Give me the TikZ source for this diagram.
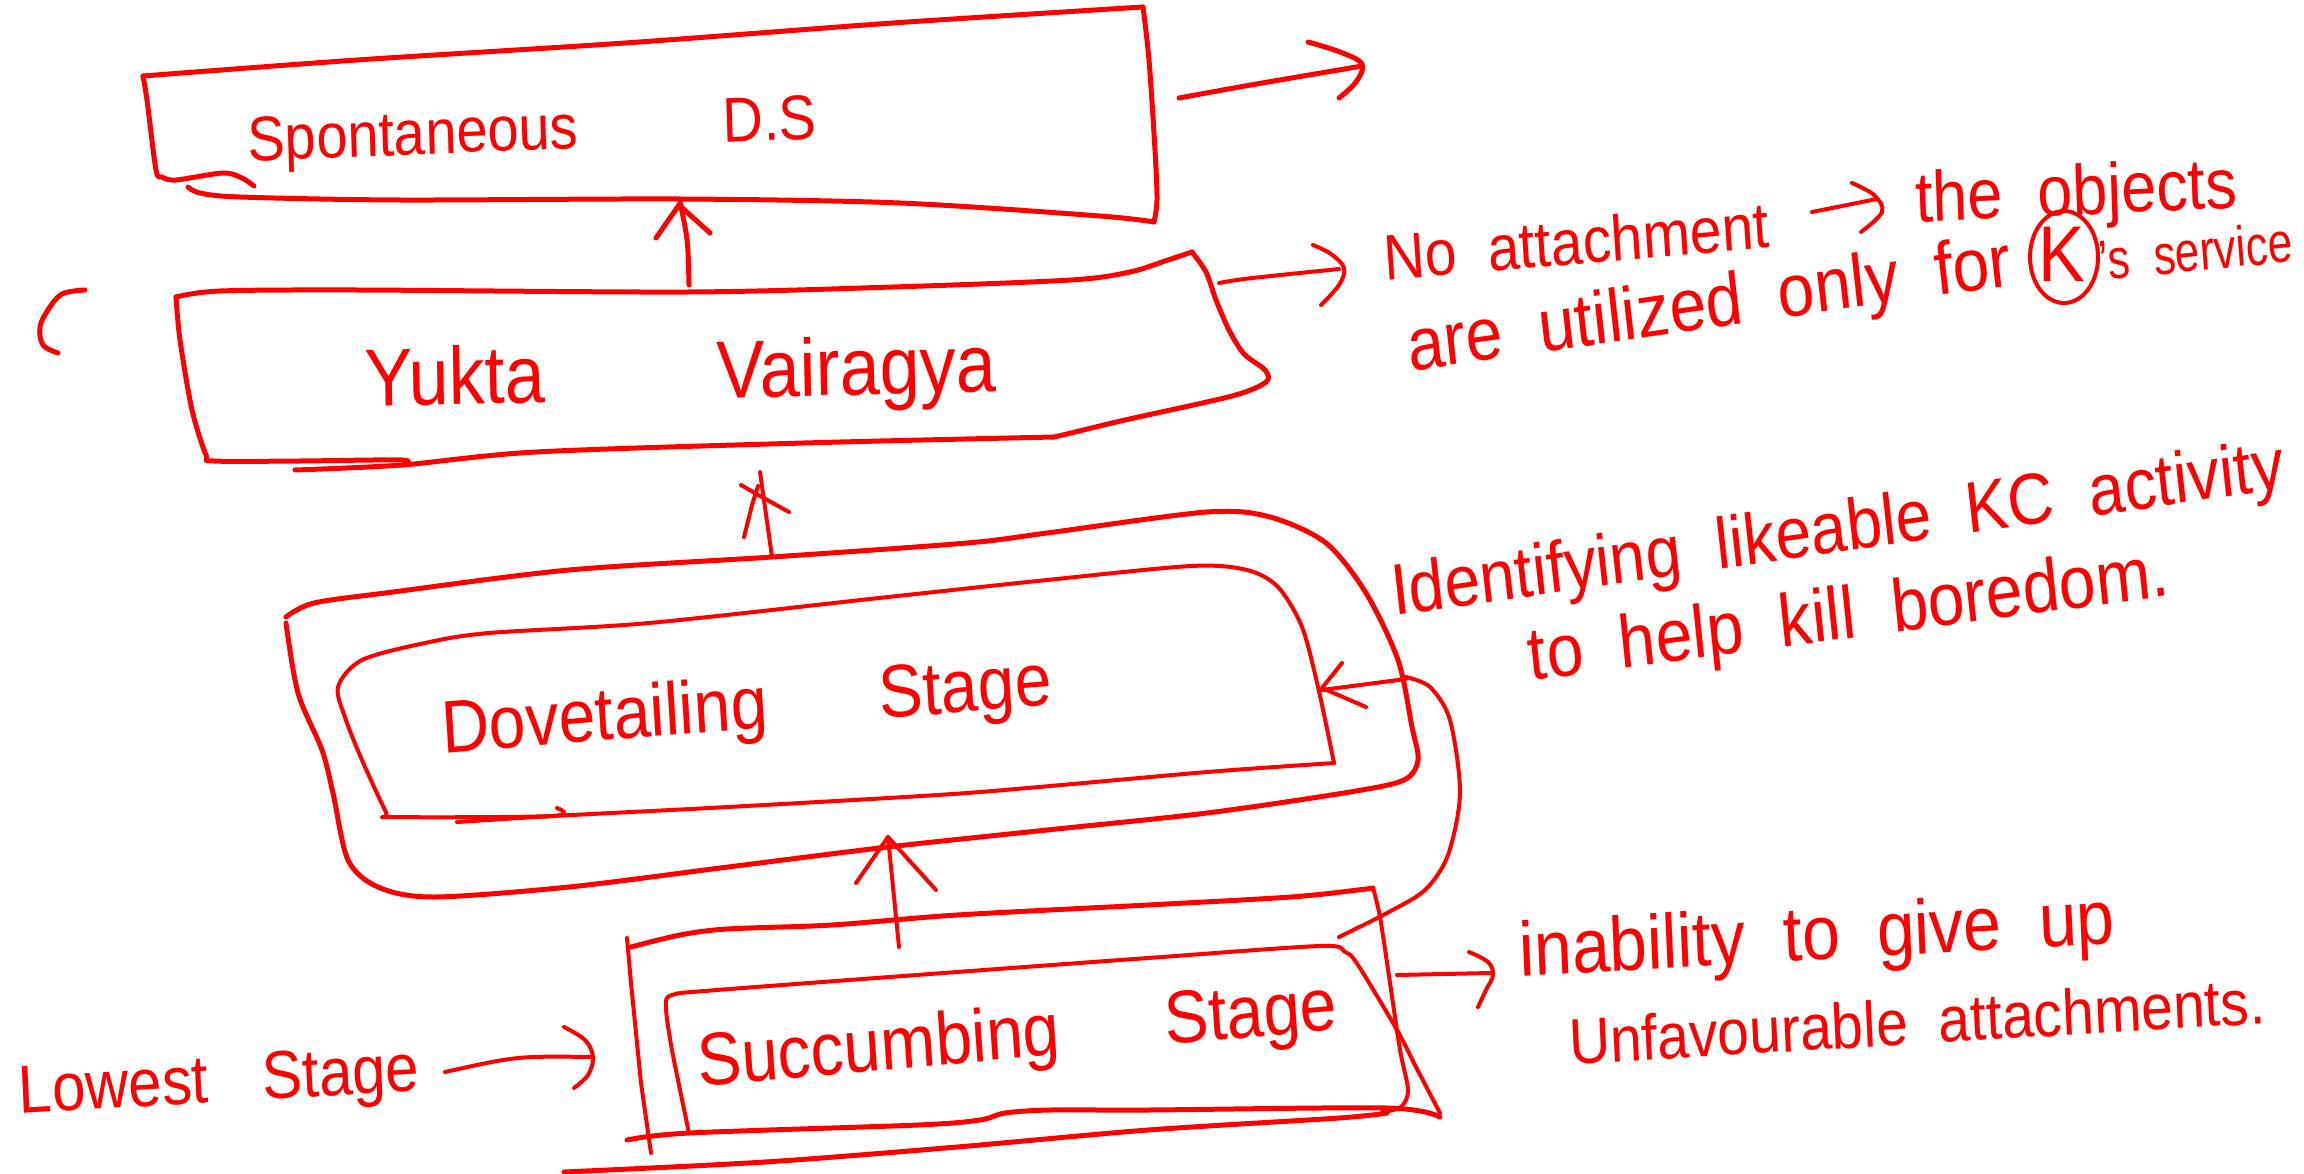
\documentclass[tikz,border=0pt]{standalone}
\usepackage{fontspec}
\setmainfont{Liberation Sans}
\definecolor{inkred}{RGB}{255,0,0}
\newcommand\handsize[1]{\fontsize{#1pt}{#1pt}\selectfont\spaceskip=0.55em\relax}
\begin{document}
\begin{tikzpicture}[x=1pt,y=-1pt,
  pen/.style={draw=inkred,line width=5pt,line cap=round,line join=round},
  finepen/.style={pen,line width=4pt},
  word/.style={text=inkred,inner sep=0pt,anchor=base,yscale=1.13},
  sz/.style={font={\handsize{#1}}}]
\useasboundingbox (0,0) rectangle (2304,1174);

% ---------- Spontaneous D.S ----------
\draw[pen] plot[smooth,tension=.5] coordinates {(143,76) (147,100) (156,170) (162,177) (176,180) (223,173) (242,178) (254,186)};
\draw[pen] plot[smooth,tension=.5] coordinates {(143,76) (357,60) (625,43) (893,23) (1143,7)};
\draw[pen] plot[smooth,tension=.5] coordinates {(1143,7) (1149,60) (1155,150) (1157,200) (1154,222)};
\draw[pen] plot[smooth,tension=.5] coordinates {(1154,222) (1100,216) (900,203) (680,199) (400,200) (240,197) (200,193) (188,187)};
\node[word,sz=56,rotate=2] (sds) at (533,150) {Spontaneous\hspace{2.6em}D.S};

% ---------- Yukta Vairagya ----------
\draw[pen] plot[smooth,tension=.5] coordinates {(176,297) (220,291) (357,290) (688,292) (893,287) (1071,280) (1130,272) (1165,261) (1192,252)};
\draw[pen] plot[smooth,tension=.5] coordinates {(176,297) (180,340) (192,410) (206,455) (214,461) (300,461) (402,460) (404,465)};
\draw[pen] plot[smooth,tension=.5] coordinates {(295,470) (402,465) (536,452) (804,443) (1054,437)};
\draw[pen] plot[smooth,tension=.5] coordinates {(1192,252) (1206,272) (1216,300) (1229,330) (1244,354) (1265,370) (1266,382) (1232,396) (1125,420) (1071,433) (1054,437)};
\draw[pen] plot[smooth,tension=.6] coordinates {(85,290) (62,294) (48,310) (40,327) (43,345) (58,353)};
\node[word,sz=72,rotate=1.2] (yv) at (681,399) {Yukta\hspace{2.4em}Vairagya};

% ---------- Dovetailing Stage ----------
\draw[pen] plot[smooth,tension=.5] coordinates {(286,617) (314,603) (393,592) (569,570) (772,557) (967,543) (1047,533) (1207,512) (1270,517) (1326,543) (1366,593) (1398,660) (1412,727) (1418,760) (1404,780) (1350,792) (1207,813) (1047,830) (888,847) (728,867) (569,887) (433,897) (378,887) (348,860) (333,793) (322,750) (298,693) (286,623)};
\draw[finepen] plot[smooth,tension=.5] coordinates {(557,808) (553,816) (393,817) (386,812) (362,760) (346,720) (338,687) (362,660) (425,643) (489,633) (649,623) (888,597) (1047,580) (1191,566) (1247,570) (1278,587) (1302,627) (1318,687) (1334,763)};
\draw[finepen] plot[smooth,tension=.4] coordinates {(1334,763) (1207,772) (967,793) (728,807) (553,816) (457,822)};
\node[word,sz=66,rotate=4] (dov) at (748,729) {Dovetailing\hspace{1.7em}Stage};

% ---------- Succumbing Stage ----------
\draw[finepen] (627,938) -- (631,983) -- (641,1083) -- (651,1153);
\draw[pen] plot[smooth,tension=.5] coordinates {(631,947) (680,935) (727,929) (832,925) (957,915) (1148,905) (1291,897) (1358,890) (1373,888)};
\draw[finepen] plot[smooth,tension=.5] coordinates {(1373,888) (1380,917) (1390,983) (1400,1050) (1408,1090) (1401,1107) (1382,1112)};
\draw[pen] plot[smooth,tension=.5] coordinates {(627,1140) (689,1133) (918,1125) (980,1120) (1005,1113) (1050,1110) (1148,1110) (1387,1108) (1440,1117)};
\draw[pen] plot[smooth,tension=.5] coordinates {(564,1172) (765,1162) (957,1147) (1148,1130) (1339,1118) (1387,1113)};
\draw[finepen] plot[smooth,tension=.5] coordinates {(689,1133) (672,1050) (666,1007) (672,995) (717,990) (957,972) (1148,958) (1320,946) (1345,952) (1358,965) (1397,1030) (1416,1067) (1440,1113)};
\node[word,sz=66,rotate=4.5] (suc) at (1019,1058) {Succumbing\hspace{1.6em}Stage};

% ---------- side labels ----------
\node[word,sz=60,rotate=3] (low) at (220,1102) {Lowest\hspace{0.9em}Stage};

\node[word,sz=57,rotate=4.3] (na) at (1578,264) {No attachment};
\node[word,sz=63,rotate=2.3] (obj) at (2077,215) {the objects};
\node[word,sz=66,rotate=7.2] (util) at (1712,328) {are utilized only for};
\node[word,sz=70,anchor=center] (kk) at (2062,254) {K};
\draw[finepen] (2064,257) ellipse [x radius=34pt,y radius=46pt];
\node[word,sz=50,rotate=5,xscale=.88] (serv) at (2197,271) {'s service};

\node[word,sz=64,rotate=7.2] (iden) at (1840,552) {Identifying likeable KC activity};
\node[word,sz=66,rotate=6.7] (kill) at (1851,638) {to help kill boredom.};

\node[word,sz=68,rotate=2.8] (inab) at (1818,960) {inability to give up};
\node[word,sz=57,rotate=3] (unf) at (1918,1044) {Unfavourable attachments.};

% ---------- connectors ----------
\coordinate (yvTop) at (689,285);   \coordinate (sdsBot) at (680,202);
\draw[pen] (yvTop) .. controls (688,240) .. (sdsBot);
\draw[pen] (656,238) -- (679,205) -- (710,233);

\coordinate (dovTop) at (772,557);  \coordinate (yvBot) at (760,472);
\draw[finepen] (dovTop) -- (yvBot);
\draw[finepen] (744,537) -- (752,505) -- (758,486);
\draw[finepen] (741,485) -- (760,496) -- (789,512);

\coordinate (sucTop) at (899,947);  \coordinate (dovBot) at (888,837);
\draw[finepen] (sucTop) -- (dovBot);
\draw[finepen] (856,883) -- (888,837) -- (936,890);

\coordinate (sdsOut) at (1179,98);  \coordinate (sdsTip) at (1362,66);
\draw[pen] (sdsOut) .. controls (1250,85) .. (sdsTip);
\draw[pen] plot[smooth,tension=.6] coordinates {(1308,42) (1340,52) (1362,64) (1356,82) (1339,98)};

\coordinate (yvOut) at (1219,283);  \coordinate (yvTip) at (1339,269);
\draw[finepen] (yvOut) .. controls (1241,279) .. (yvTip);
\draw[finepen] plot[smooth,tension=.6] coordinates {(1313,245) (1331,254) (1344,268) (1339,285) (1321,305)};

\coordinate (naArr) at (1812,212);  \coordinate (naTip) at (1877,199);
\draw[finepen] (naArr) -- (naTip);
\draw[finepen] plot[smooth,tension=.6] coordinates {(1852,183) (1874,195) (1882,212) (1861,232)};

\coordinate (idOut) at (1406,679);  \coordinate (dovIn) at (1322,690);
\draw[finepen] (idOut) -- (dovIn);
\draw[finepen] (1342,663) -- (1322,688) -- (1366,707);
\draw[finepen] plot[smooth,tension=.5] coordinates {(1406,677) (1430,687) (1450,720) (1460,793) (1448,855) (1425,890) (1387,913) (1339,937)};

\coordinate (lowOut) at (445,1072); \coordinate (lowTip) at (593,1057);
\draw[finepen] (lowOut) .. controls (517,1056) .. (lowTip);
\draw[finepen] plot[smooth,tension=.6] coordinates {(564,1027) (585,1040) (593,1057) (588,1075) (574,1088)};

\coordinate (sucOut) at (1397,975); \coordinate (sucTip) at (1490,973);
\draw[finepen] (sucOut) -- (sucTip);
\draw[finepen] plot[smooth,tension=.6] coordinates {(1469,952) (1488,962) (1493,975) (1486,990) (1478,1007)};
\end{tikzpicture}
\end{document}
